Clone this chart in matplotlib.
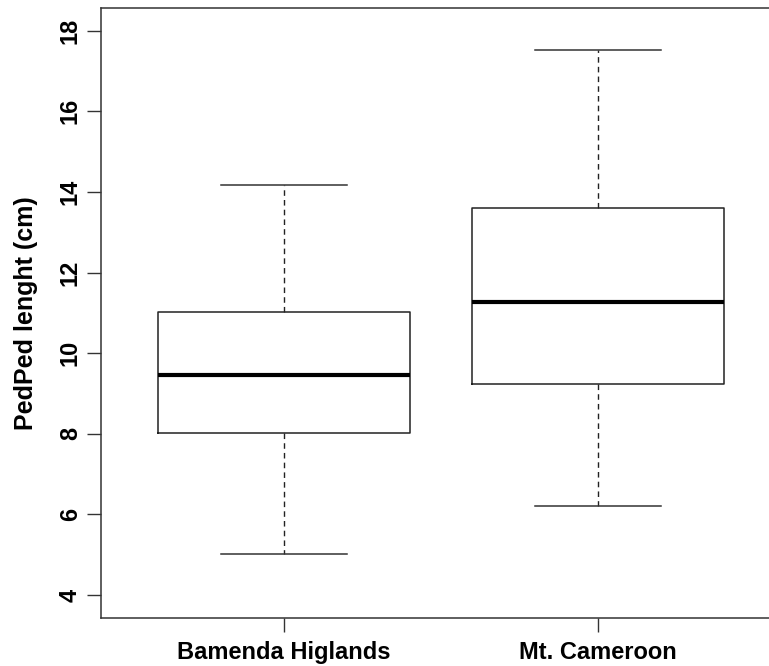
import matplotlib
matplotlib.use('agg')
import matplotlib.pyplot as plt

# box statistics per site (cm)
sites = ['Bamenda Higlands', 'Mt. Cameroon']
whisker_lo = [5.02, 6.20]
q1 = [8.03, 9.23]
median = [9.47, 11.27]
q3 = [11.02, 13.60]
whisker_hi = [14.16, 17.52]

plt.rcParams['font.family'] = ['Liberation Sans', 'DejaVu Sans']
plt.rcParams['font.weight'] = 'bold'

fig = plt.figure(figsize=(7.69, 6.66), dpi=100)
ax = fig.add_axes([0.1317, 0.0725, 0.8746, 0.9155])

stats = []
for i in range(len(sites)):
    stats.append({'whislo': whisker_lo[i], 'q1': q1[i], 'med': median[i],
                  'q3': q3[i], 'whishi': whisker_hi[i], 'label': sites[i]})

ax.bxp(stats, positions=[1, 2], widths=0.8, showfliers=False, patch_artist=False,
       boxprops=dict(color='#222222', linewidth=1.1),
       medianprops=dict(color='black', linewidth=3),
       whiskerprops=dict(color='#222222', linewidth=1.0, linestyle=(0, (4, 3))),
       capprops=dict(color='#333333', linewidth=1.1),
       capwidths=0.4)

ax.set_xlim(0.418, 2.56)
ax.set_ylim(3.44, 18.56)
ax.set_yticks([4, 6, 8, 10, 12, 14, 16, 18])
ax.set_xticks([1, 2])
ax.set_xticklabels(sites, fontsize=17, fontweight='bold')
for lab in ax.get_yticklabels():
    lab.set_rotation(90)
    lab.set_verticalalignment('center')
ax.tick_params(axis='y', labelsize=17, length=10, width=1, color='#333333', pad=4)
ax.tick_params(axis='x', length=10, width=1, color='#333333', pad=7)
ax.set_ylabel('PedPed lenght (cm)', fontsize=18, fontweight='bold', labelpad=15)

for s in ax.spines.values():
    s.set_color('#333333')
    s.set_linewidth(1.1)

fig.savefig('out.png', dpi=100)
